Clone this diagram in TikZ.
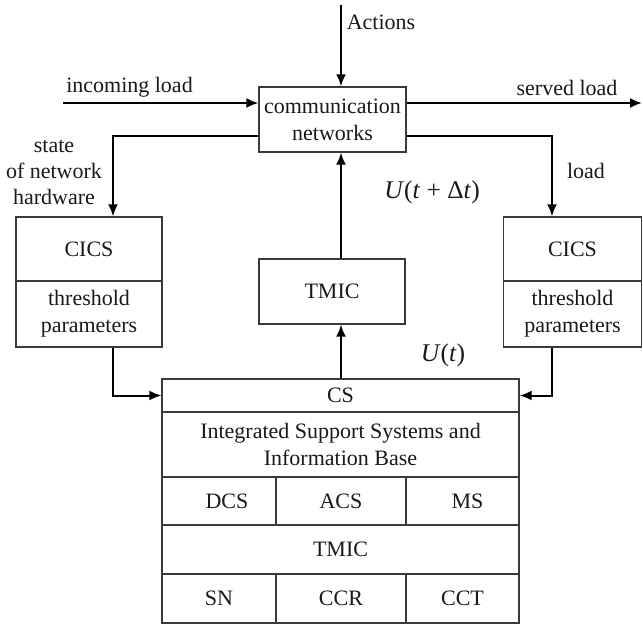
\documentclass[tikz,border=0pt]{standalone}
\usepackage{fontspec}
\setmainfont{Liberation Serif}
\usetikzlibrary{arrows.meta}
\definecolor{edge}{HTML}{3A3A3A}
\tikzset{
  box/.style={draw=edge, line width=1.3pt, inner sep=0pt, align=center,
    font=\fontsize{22}{27}\selectfont, text=black!90},
  lbl/.style={inner sep=0pt, align=center, font=\fontsize{22}{26}\selectfont, text=black!90},
  mlbl/.style={inner sep=0pt, font=\fontsize{25.5}{28}\selectfont, text=black!90},
  arr/.style={line width=2pt, -{Latex[length=12pt,width=10pt]}}
}
\begin{document}
\begin{tikzpicture}[x=1pt,y=-1pt]
\useasboundingbox (0,0) rectangle (643,624);
% main box
\node[box, minimum width=147pt, minimum height=65pt] (comm) at (332.5,119.5) {communication\\networks};
% left CICS
\node[box, minimum width=146pt, minimum height=64pt] (cicsLa) at (89,249) {CICS};
\node[box, minimum width=146pt, minimum height=66pt] (cicsLb) at (89,314) {threshold\\parameters};
% right CICS
\node[box, minimum width=138pt, minimum height=64pt] (cicsRa) at (572.5,249) {CICS};
\node[box, minimum width=138pt, minimum height=66pt] (cicsRb) at (572.5,314) {threshold\\parameters};
% TMIC
\node[box, minimum width=146pt, minimum height=65pt] (tmic) at (332,291.5) {TMIC};
% CS stack
\node[box, minimum width=357pt, minimum height=33pt] (cs) at (340.5,395.5) {CS};
\node[box, minimum width=357pt, minimum height=65pt] (isb) at (340.5,444.5) {Integrated Support Systems and\\Information Base};
\node[box, minimum width=114pt, minimum height=48pt] (dcs) at (219,501) {\hspace*{16pt}DCS};
\node[box, minimum width=130pt, minimum height=48pt] (acs) at (341,501) {ACS};
\node[box, minimum width=113pt, minimum height=48pt] (ms) at (462.5,501) {\hspace*{10pt}MS};
\node[box, minimum width=357pt, minimum height=49pt] (tmic2) at (340.5,549.5) {TMIC};
\node[box, minimum width=114pt, minimum height=49pt] (sn) at (219,598.5) {SN};
\node[box, minimum width=130pt, minimum height=49pt] (ccr) at (341,598.5) {CCR};
\node[box, minimum width=113pt, minimum height=49pt] (cct) at (462.5,598.5) {CCT};
% coordinates
\coordinate (act) at (341,5);
\coordinate (inA) at (63,103);
\coordinate (outB) at (642,103);
\coordinate (fl) at (113,136);
\coordinate (fr) at (552,136);
% labels
\node[lbl] (lact) at (381,22) {Actions};
\node[lbl] (lin) at (129.5,87) {incoming load};
\node[lbl] (lout) at (567,88) {served load};
\node[lbl] (lstate) at (54,172) {state\\of network\\hardware};
\node[lbl] (lload) at (586,171) {load};
\node[mlbl] (lu1) at (432,192) {\textit{U}(\textit{t} + Δ\textit{t})};
\node[mlbl] (lu0) at (443,355) {\textit{U}(\textit{t})};
% connectors
\draw[arr] (act) -- (act |- comm.north);
\draw[arr] (inA) -- (inA -| comm.west);
\draw[arr] (comm.east |- outB) -- (outB);
\draw[arr] (comm.west |- fl) -- (fl) -- (fl |- cicsLa.north);
\draw[arr] (comm.east |- fr) -- (fr) -- (fr |- cicsRa.north);
\draw[arr] (cicsLb.south -| fl) |- (cs.west);
\draw[arr] (cicsRb.south -| fr) |- (cs.east);
\draw[arr] (cs.north -| act) -- (act |- tmic.south);
\draw[arr] (act |- tmic.north) -- (act |- comm.south);
\end{tikzpicture}
\end{document}
